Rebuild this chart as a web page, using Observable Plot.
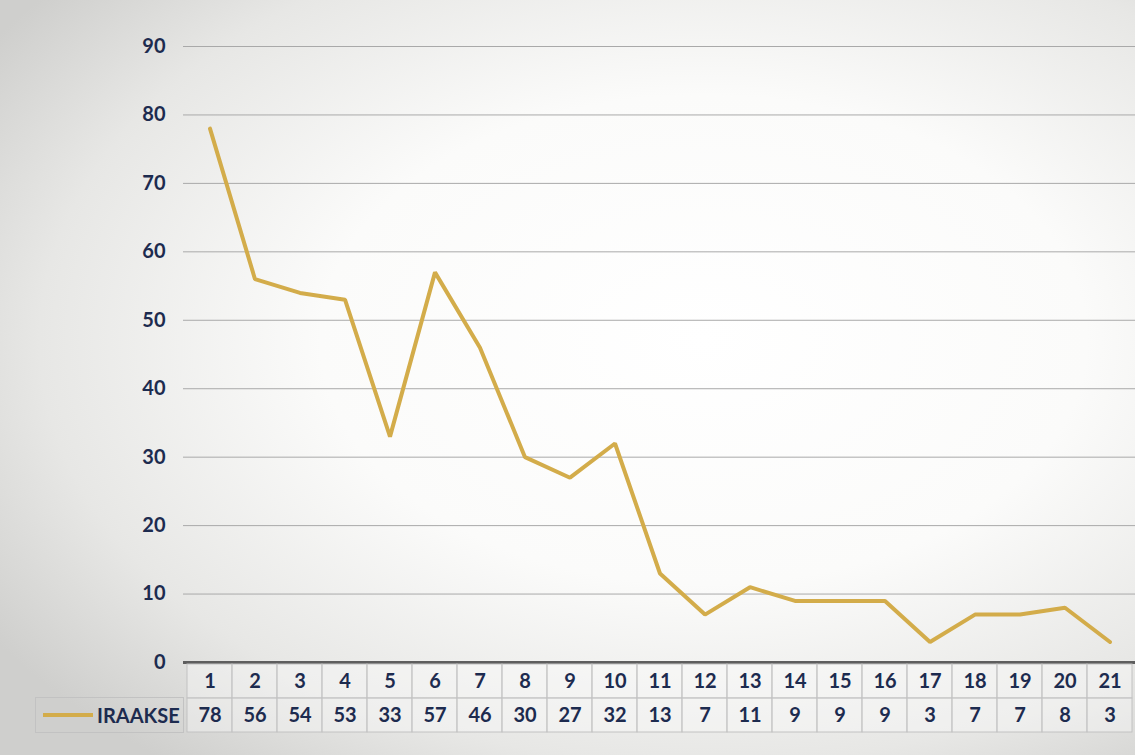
<!DOCTYPE html>
<html><head><meta charset="utf-8">
<script src="https://cdn.jsdelivr.net/npm/d3@7"></script>
<script src="https://cdn.jsdelivr.net/npm/@observablehq/plot@0.6"></script>
<style>
html,body{margin:0;padding:0;}
body{width:1135px;height:755px;overflow:hidden;position:relative;
 background: radial-gradient(ellipse 75% 72% at 62% 45%, #ffffff 0%, #fbfbfa 45%, #e7e7e5 78%, #cfcfcd 100%);
 font-family:Lato,"Open Sans",sans-serif;}
#chart{position:absolute;left:0;top:0;}
#table{position:absolute;left:0;top:663px;}
#legend{position:absolute;left:35px;top:697px;width:149px;height:36px;border:1px solid #c2c2c2;box-sizing:border-box;
 display:flex;align-items:center;font-weight:700;font-size:20px;color:#1d2b4f;}
#legend .sw{display:inline-block;width:50px;height:4px;background:#D3AC4A;margin-left:7px;margin-right:4px;}
</style></head>
<body>
<div id="chart"></div>
<div id="table"></div>
<div id="legend"><span class="sw"></span><span>IRAAKSE</span></div>
<script>
const categories = ["1","2","3","4","5","6","7","8","9","10","11","12","13","14","15","16","17","18","19","20","21"];
const values = [78,56,54,53,33,57,46,30,27,32,13,7,11,9,9,9,3,7,7,8,3];
const yTicks = [0,10,20,30,40,50,60,70,80,90];
const seriesName = "IRAAKSE";

const data = categories.map((c,i)=>({cat:c, val:values[i]}));
const navy = "#1d2b4f";
const gold = "#D3AC4A";

const chart = Plot.plot({
  width:1135, height:690,
  marginTop:46, marginBottom:28, marginLeft:183, marginRight:0,
  style:{background:"transparent", color:navy, fontFamily:"Lato, 'Open Sans', sans-serif"},
  x:{type:"band", domain:categories, padding:0, axis:null},
  y:{domain:[0,90], axis:null},
  marks:[
    Plot.ruleY(yTicks.filter(d=>d>0), {stroke:"#a9a9a9", strokeWidth:1}),
    Plot.ruleY([0], {stroke:"#5e5e5e", strokeWidth:3}),
    Plot.axisY(yTicks, {tickSize:0, tickPadding:18, fontSize:20, fontWeight:700, fill:navy, label:null}),
    Plot.line(data, {x:"cat", y:"val", stroke:gold, strokeWidth:4, strokeLinejoin:"miter"})
  ]
});
document.getElementById("chart").appendChild(chart);

const rows = ["head","vals"];
const tableData = [];
categories.forEach((c,i)=>{
  tableData.push({cat:c, row:"head", text:c});
  tableData.push({cat:c, row:"vals", text:String(values[i])});
});
const table = Plot.plot({
  width:1135, height:71,
  marginTop:0, marginBottom:2, marginLeft:183, marginRight:0,
  style:{background:"transparent", fontFamily:"Lato, 'Open Sans', sans-serif"},
  x:{type:"band", domain:categories, padding:0, axis:null},
  y:{type:"band", domain:rows, padding:0, axis:null},
  marks:[
    Plot.cell(tableData, {x:"cat", y:"row", fill:"white", fillOpacity:0.35, stroke:"#c2c2c2", strokeWidth:1, inset:0}),
    Plot.text(tableData, {x:"cat", y:"row", text:"text", fontSize:20, fontWeight:700, fill:navy})
  ]
});
document.getElementById("table").appendChild(table);
</script>
</body></html>
